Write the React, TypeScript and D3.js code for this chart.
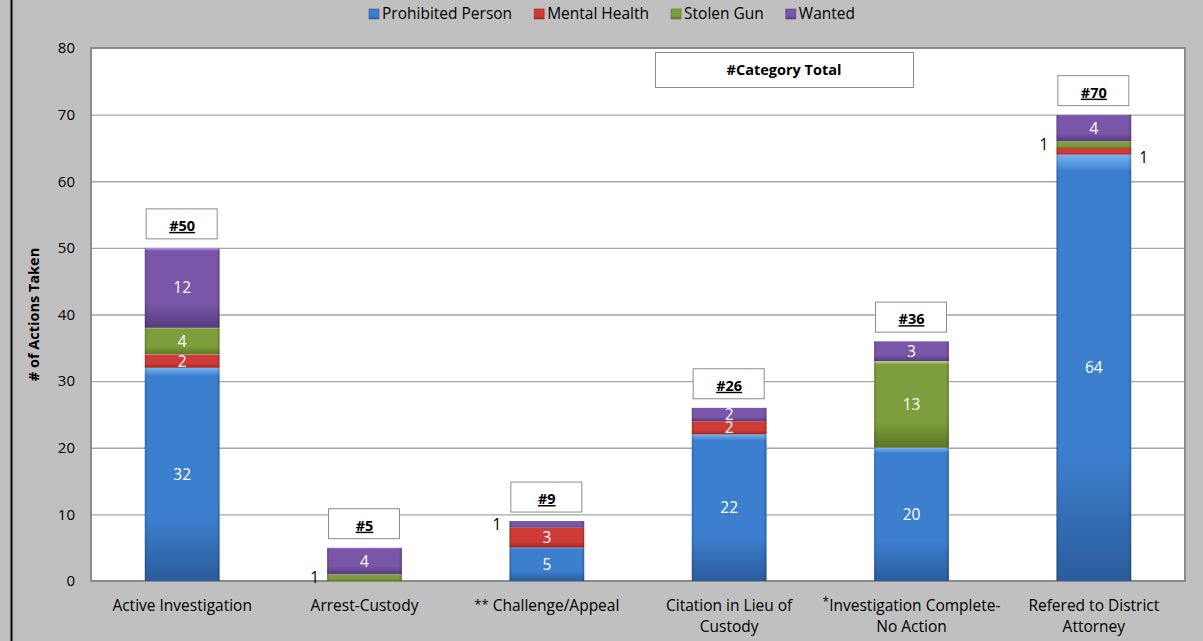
import React, { useEffect, useRef } from 'react';
import * as d3 from 'd3';

const categories = [
  'Active Investigation',
  'Arrest-Custody',
  'Challenge/Appeal',
  'Citation in Lieu of Custody',
  'Investigation Complete-No Action',
  'Refered to District Attorney',
];
// axis label lines, with optional footnote marks
const categoryLines = [
  [['', 'Active Investigation']],
  [['', 'Arrest-Custody']],
  [['**', ' Challenge/Appeal']],
  [['', 'Citation in Lieu of'], ['', 'Custody']],
  [['*', 'Investigation Complete-'], ['', 'No Action']],
  [['', 'Refered to District'], ['', 'Attorney']],
];
const seriesNames = ['Prohibited Person', 'Mental Health', 'Stolen Gun', 'Wanted'];
const prohibited = [32, 0, 5, 22, 20, 64];
const mentalHealth = [2, 0, 3, 2, 0, 1];
const stolenGun = [4, 1, 0, 0, 13, 1];
const wanted = [12, 4, 1, 2, 3, 4];
const yTicks = [0, 10, 20, 30, 40, 50, 60, 70, 80];
// small labels drawn on the right side of the bar instead of the left
const rightSideLabels = [['Refered to District Attorney', 'Mental Health']];

const palette = [
  { main: '#3c7fcf', light: '#78b4f2', dark: '#2b5c9c' },
  { main: '#cf3b37', light: '#f58a86', dark: '#9a2826' },
  { main: '#7e9d3c', light: '#c2e08a', dark: '#5b7629' },
  { main: '#7956a8', light: '#bb9ce6', dark: '#563b7d' },
];

const W = 1203;
const H = 641;

export default function App() {
  const svgRef = useRef<SVGSVGElement>(null);

  useEffect(() => {
    document.body.style.margin = '0';
    const svg = d3.select(svgRef.current);
    svg.selectAll('*').remove();

    const font = '"Open Sans", "Noto Sans", sans-serif';
    const margin = { top: 48, right: 18, bottom: 60, left: 91 };
    const innerW = W - margin.left - margin.right;
    const innerH = H - margin.top - margin.bottom;

    const rows = categories.map((c, i) => ({
      category: c,
      'Prohibited Person': prohibited[i],
      'Mental Health': mentalHealth[i],
      'Stolen Gun': stolenGun[i],
      Wanted: wanted[i],
    }));
    const stacked = d3.stack<any>().keys(seriesNames)(rows);

    const x = d3.scaleBand().domain(categories).range([0, innerW]).paddingInner(0.59).paddingOuter(0.295);
    const y = d3.scaleLinear().domain([0, 80]).range([innerH, 0]);

    // background
    svg.append('rect').attr('width', W).attr('height', H).attr('fill', '#c0c0c0');
    svg.append('line').attr('x1', 11.5).attr('x2', 11.5).attr('y1', 0).attr('y2', H)
      .attr('stroke', '#000').attr('stroke-width', 2);

    const defs = svg.append('defs');
    palette.forEach((p, i) => {
      const gr = defs.append('linearGradient').attr('id', `grad${i}`)
        .attr('x1', 0).attr('x2', 0).attr('y1', 0).attr('y2', 1);
      gr.append('stop').attr('offset', '0%').attr('stop-color', p.light);
      gr.append('stop').attr('offset', '4%').attr('stop-color', p.main);
      gr.append('stop').attr('offset', '70%').attr('stop-color', p.main);
      gr.append('stop').attr('offset', '100%').attr('stop-color', p.dark);
      const side = defs.append('linearGradient').attr('id', `side${i}`)
        .attr('x1', 0).attr('x2', 1).attr('y1', 0).attr('y2', 0);
      side.append('stop').attr('offset', '0%').attr('stop-color', '#000').attr('stop-opacity', 0.18);
      side.append('stop').attr('offset', '4%').attr('stop-color', '#000').attr('stop-opacity', 0);
      side.append('stop').attr('offset', '96%').attr('stop-color', '#000').attr('stop-opacity', 0);
      side.append('stop').attr('offset', '100%').attr('stop-color', '#000').attr('stop-opacity', 0.22);
    });

    const g = svg.append('g').attr('transform', `translate(${margin.left},${margin.top})`);

    g.append('rect').attr('width', innerW).attr('height', innerH).attr('fill', '#fff');

    // gridlines
    g.selectAll('.grid').data(yTicks.slice(1, -1)).enter().append('line')
      .attr('x1', 0).attr('x2', innerW)
      .attr('y1', d => y(d) + 0.5).attr('y2', d => y(d) + 0.5)
      .attr('stroke', '#a6a6a6').attr('stroke-width', 1.3);

    // plot border
    g.append('rect').attr('x', 0).attr('y', 0).attr('width', innerW).attr('height', innerH)
      .attr('fill', 'none').attr('stroke', '#8a8a8a').attr('stroke-width', 2);

    // y tick labels
    g.selectAll('.ytick').data(yTicks).enter().append('text')
      .attr('x', -16).attr('y', d => y(d)).attr('dy', '0.35em')
      .attr('text-anchor', 'end').attr('font-family', font).attr('font-size', 15)
      .attr('fill', '#000').text(d => d);

    // y axis title
    svg.append('text')
      .attr('transform', `translate(39,${margin.top + innerH / 2}) rotate(-90)`)
      .attr('text-anchor', 'middle').attr('font-family', font).attr('font-size', 14.5)
      .attr('font-weight', 'bold').text('# of Actions Taken');

    // bars
    stacked.forEach((layer, si) => {
      layer.forEach((seg, ci) => {
        const v = seg[1] - seg[0];
        if (v <= 0) return;
        const bx = x(categories[ci])!;
        const by = y(seg[1]);
        const bh = y(seg[0]) - y(seg[1]);
        g.append('rect').attr('x', bx).attr('y', by).attr('width', x.bandwidth()).attr('height', bh)
          .attr('fill', `url(#grad${si})`);
        g.append('rect').attr('x', bx).attr('y', by).attr('width', x.bandwidth()).attr('height', bh)
          .attr('fill', `url(#side${si})`);

        const cy = (y(seg[0]) + y(seg[1])) / 2;
        if (v >= 2) {
          g.append('text').attr('x', bx + x.bandwidth() / 2).attr('y', cy).attr('dy', '0.36em')
            .attr('text-anchor', 'middle').attr('font-family', font).attr('font-size', 15.5)
            .attr('fill', '#fff').text(v);
        } else {
          const right = rightSideLabels.some(([c, s]) => c === categories[ci] && s === seriesNames[si]);
          g.append('text')
            .attr('x', right ? bx + x.bandwidth() + 8 : bx - 8)
            .attr('y', cy + (right ? 6 : 0)).attr('dy', '0.36em')
            .attr('text-anchor', right ? 'start' : 'end').attr('font-family', font).attr('font-size', 15.5)
            .attr('fill', '#000').text(v);
        }
      });
    });

    // total boxes
    const top = stacked[stacked.length - 1];
    top.forEach((seg, ci) => {
      const cx = x(categories[ci])! + x.bandwidth() / 2;
      const by = y(seg[1]) - 9;
      g.append('rect').attr('x', cx - 36).attr('y', by - 30).attr('width', 71).attr('height', 30)
        .attr('fill', '#fff').attr('stroke', '#8c8c8c').attr('stroke-width', 1);
      g.append('text').attr('x', cx).attr('y', by - 8)
        .attr('text-anchor', 'middle').attr('font-family', font).attr('font-size', 14.5)
        .attr('font-weight', 'bold').attr('text-decoration', 'underline')
        .text(`#${seg[1]}`);
    });

    // category total legend box
    svg.append('rect').attr('x', 655.5).attr('y', 52.5).attr('width', 258).attr('height', 35)
      .attr('fill', '#fff').attr('stroke', '#8c8c8c');
    svg.append('text').attr('x', 784).attr('y', 75).attr('text-anchor', 'middle')
      .attr('font-family', font).attr('font-size', 14.5).attr('font-weight', 'bold')
      .text('#Category Total');

    // x labels
    categories.forEach((c, ci) => {
      const cx = margin.left + x(c)! + x.bandwidth() / 2;
      categoryLines[ci].forEach(([mark, txt], li) => {
        const t = svg.append('text').attr('x', cx).attr('y', margin.top + innerH + 30 + li * 21)
          .attr('text-anchor', 'middle').attr('font-family', font).attr('font-size', 15.5).attr('fill', '#000');
        if (mark) {
          t.append('tspan').attr('font-size', mark === '*' ? 12 : 13)
            .attr('baseline-shift', mark === '*' ? '40%' : '15%').text(mark);
        }
        t.append('tspan').text(txt);
      });
    });

    // legend
    const legend = svg.append('g').attr('transform', 'translate(0,14)');
    let lx = 0;
    seriesNames.forEach((name, i) => {
      const it = legend.append('g').attr('transform', `translate(${lx},0)`);
      it.append('rect').attr('x', 0).attr('y', -5).attr('width', 10).attr('height', 10)
        .attr('fill', `url(#grad${i})`).attr('stroke', palette[i].dark).attr('stroke-width', 0.6);
      const tx = it.append('text').attr('x', 13).attr('y', 0).attr('dy', '0.35em')
        .attr('font-family', font).attr('font-size', 15.5).text(name);
      const w = (tx.node() as SVGTextElement).getComputedTextLength();
      lx += 13 + w + 22;
    });
    const total = lx - 22;
    legend.attr('transform', `translate(${612 - total / 2},14)`);
  }, []);

  return <svg ref={svgRef} width={W} height={H} style={{ display: 'block' }} />;
}
